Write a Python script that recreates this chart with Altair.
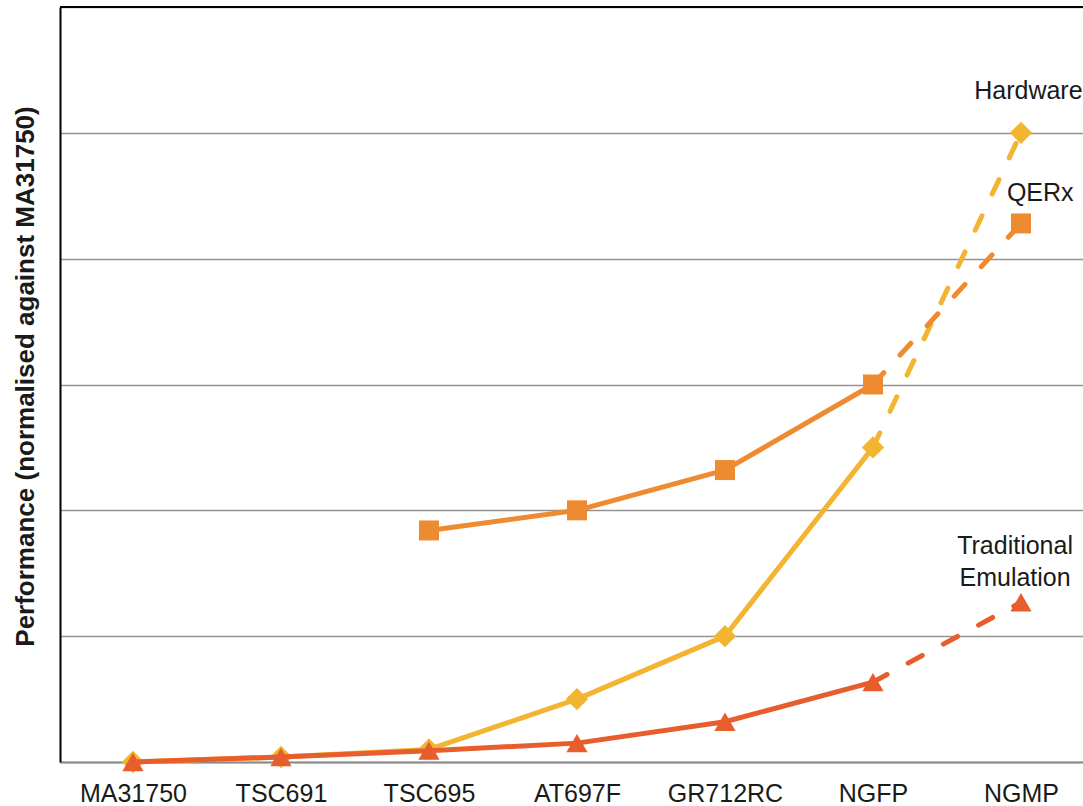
import json
import altair as alt
import pandas as pd

# Processor generations along the x axis
categories = ["MA31750", "TSC691", "TSC695", "AT697F", "GR712RC", "NGFP", "NGMP"]

# Performance normalised against MA31750 (None = no value for that processor)
hardware = [0.0, 0.04, 0.10, 0.50, 1.00, 2.50, 5.00]
qerx = [None, None, 1.84, 2.00, 2.32, 3.00, 4.28]
traditional = [0.0, 0.04, 0.09, 0.15, 0.32, 0.635, 1.27]

series_names = ["Hardware", "QERx", "Traditional Emulation"]
series_values = [hardware, qerx, traditional]
series_colors = ["#F3B431", "#EE8B31", "#E85D2C"]
series_shapes = ["diamond", "square", "triangle-up"]
series_sizes = [500, 400, 450]

# Series labels placed next to the NGMP end of each line
label_text = ["Hardware", "QERx", "Traditional", "Emulation"]
label_idx = [6.05, 6.13, 5.96, 5.96]
label_val = [5.27, 4.46, 1.651, 1.397]

FONT = "Liberation Sans"
TEXT = "#1a1a1a"

x_enc = alt.X(
    "idx:Q",
    scale=alt.Scale(domain=[-0.493, 6.419], nice=False, zero=False),
    axis=alt.Axis(
        values=list(range(len(categories))),
        labelExpr=json.dumps(categories) + "[datum.value]",
        title=None,
        grid=False,
        ticks=False,
        tickSize=0,
        labelPadding=19,
        labelFontSize=25,
        labelFont=FONT,
        labelColor=TEXT,
        labelOverlap=False,
        labelFlush=False,
        domainColor="#8c8c8c",
        domainWidth=2,
    ),
)

y_enc = alt.Y(
    "value:Q",
    scale=alt.Scale(domain=[0, 6], nice=False, zero=True),
    axis=alt.Axis(
        values=[0, 1, 2, 3, 4, 5, 6],
        labels=False,
        ticks=False,
        tickSize=0,
        grid=True,
        gridColor="#939393",
        gridWidth=1.5,
        domainColor="black",
        domainWidth=2,
        title="Performance (normalised against MA31750)",
        titleFont=FONT,
        titleFontSize=26,
        titleFontWeight="bold",
        titleColor=TEXT,
        titleAngle=-90,
        titleAlign="center",
        titleBaseline="alphabetic",
        titleX=-27,
        titleY=369,
    ),
)

layers = []

# Frame line along the top of the plot
top_df = pd.DataFrame({"value": [6]})
layers.append(
    alt.Chart(top_df).mark_rule(color="black", strokeWidth=2).encode(y=y_enc)
)

for name, vals, color, shape, size in zip(
    series_names, series_values, series_colors, series_shapes, series_sizes
):
    rows = [(i, v) for i, v in enumerate(vals) if v is not None]
    df = pd.DataFrame(rows, columns=["idx", "value"])
    solid = df[df["idx"] <= 5]
    projected = df[df["idx"] >= 5]

    layers.append(
        alt.Chart(solid)
        .mark_line(color=color, strokeWidth=5, strokeJoin="round")
        .encode(x=x_enc, y=y_enc)
    )
    layers.append(
        alt.Chart(projected)
        .mark_line(color=color, strokeWidth=5, strokeDash=[16, 24], strokeCap="round")
        .encode(x=x_enc, y=y_enc)
    )
    layers.append(
        alt.Chart(df)
        .mark_point(shape=shape, size=size, filled=True, color=color, opacity=1)
        .encode(x=x_enc, y=y_enc)
    )

labels_df = pd.DataFrame({"idx": label_idx, "value": label_val, "text": label_text})
layers.append(
    alt.Chart(labels_df)
    .mark_text(
        font=FONT,
        fontSize=25,
        color=TEXT,
        align="center",
        baseline="alphabetic",
    )
    .encode(x=x_enc, y=y_enc, text="text:N")
)

chart = (
    alt.layer(*layers)
    .properties(
        width=1023,
        height=755,
        padding={"left": 60, "top": 7, "right": 0, "bottom": 44},
        autosize=alt.AutoSizeParams(type="none"),
        background="white",
    )
    .configure_view(stroke=None)
)

chart.save("out.html", embed_options={"renderer": "svg", "actions": False})
